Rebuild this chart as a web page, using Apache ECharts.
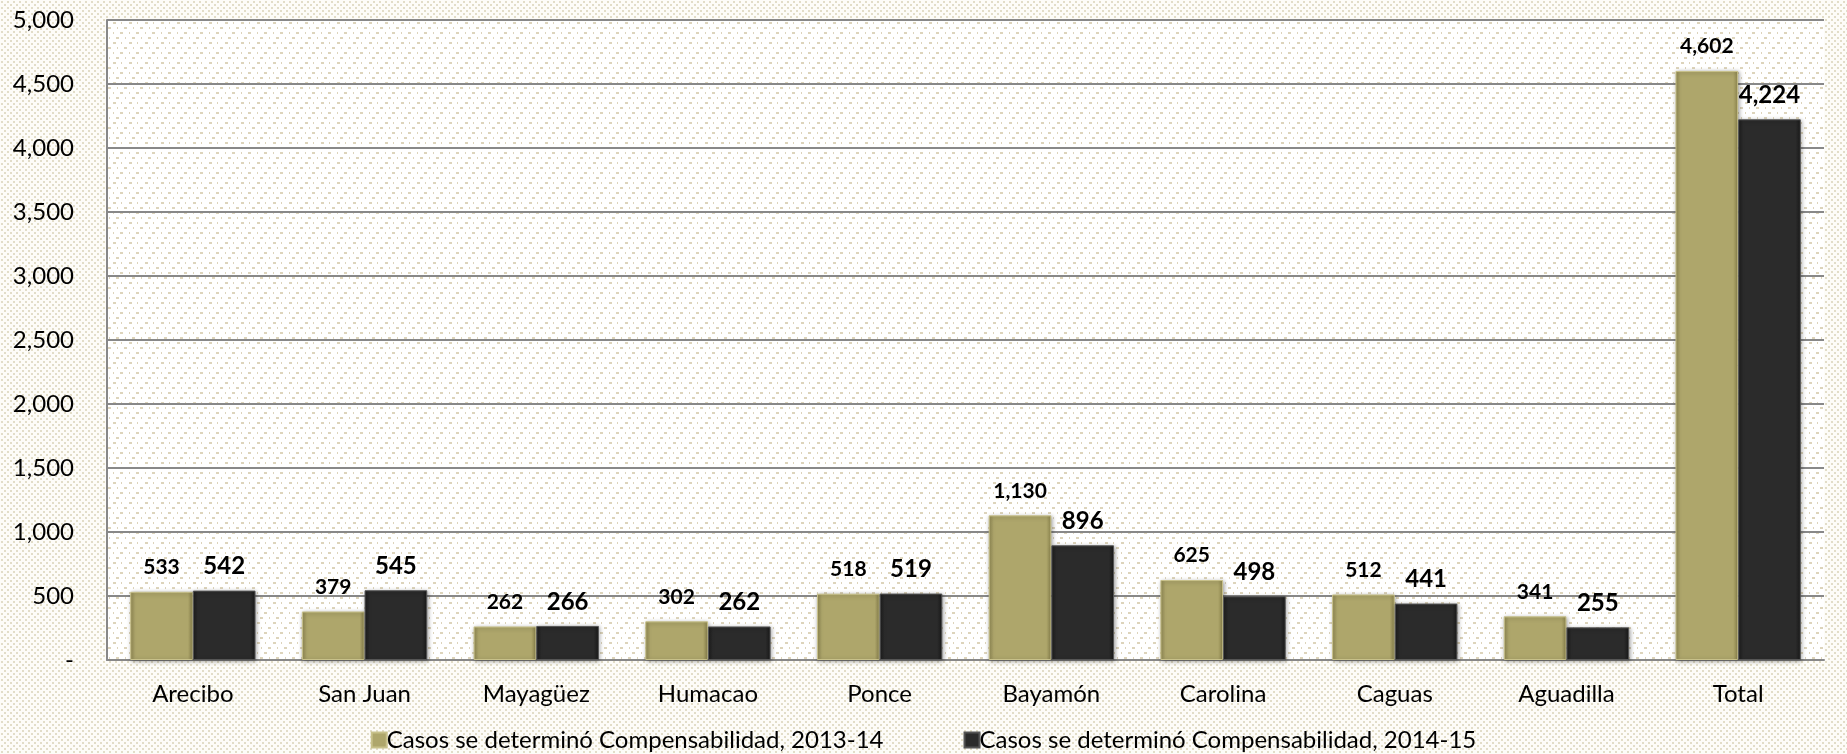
<!DOCTYPE html>
<html><head><meta charset="utf-8">
<script src="https://cdn.jsdelivr.net/npm/echarts@6/dist/echarts.min.js"></script>
<style>html,body{margin:0;padding:0;background:#fff}#c{width:1847px;height:754px}</style>
</head><body><div id="c"></div>
<script>
const categories = ['Arecibo','San Juan','Mayagüez','Humacao','Ponce','Bayamón','Carolina','Caguas','Aguadilla','Total'];
const series2013 = [533,379,262,302,518,1130,625,512,341,4602];
const series2014 = [542,545,266,262,519,896,498,441,255,4224];
const seriesNames = ['Casos se determinó Compensabilidad, 2013-14','Casos se determinó Compensabilidad, 2014-15'];
const yTicks = [0,500,1000,1500,2000,2500,3000,3500,4000,4500,5000];

function outerPattern(){
  const c=document.createElement('canvas');c.width=12;c.height=12;
  const g=c.getContext('2d');g.fillStyle='#fdfcf8';g.fillRect(0,0,12,12);
  g.fillStyle='#e2ddc8';
  [[1,1],[7,1],[4,4],[10,4],[1,7],[7,7],[4,10],[10,10]].forEach(p=>g.fillRect(p[0],p[1],2,2));
  return c;
}
function innerPattern(){
  const c=document.createElement('canvas');c.width=16;c.height=20;
  const g=c.getContext('2d');g.fillStyle='#ffffff';g.fillRect(0,0,16,20);
  g.fillStyle='#ddd4bb';
  g.fillRect(1,2,3,2);g.fillRect(9,2,1,2);
  g.fillRect(5,7,1,2);g.fillRect(12,7,3,2);
  g.fillRect(1,12,1,2);g.fillRect(8,12,3,2);
  g.fillRect(4,17,3,2);g.fillRect(13,17,1,2);
  return c;
}
const fontFam = 'Lato, "Open Sans", sans-serif';
const chart = echarts.init(document.getElementById('c'), null, {renderer:'canvas'});
const goldGrad = new echarts.graphic.LinearGradient(0,0,1,0,[
  {offset:0,color:'#938b55'},{offset:0.08,color:'#aea66b'},{offset:0.92,color:'#aea66b'},{offset:1,color:'#8f874f'}]);
const darkGrad = new echarts.graphic.LinearGradient(0,0,1,0,[
  {offset:0,color:'#1c1c1c'},{offset:0.08,color:'#2b2b2b'},{offset:0.92,color:'#2b2b2b'},{offset:1,color:'#181818'}]);
chart.setOption({
  animation:false,
  backgroundColor:{image:outerPattern(),repeat:'repeat'},
  grid:{left:107,right:23,top:20,bottom:94,show:true,backgroundColor:{image:innerPattern(),repeat:'repeat'},borderWidth:0},
  legend:{
    bottom:-3,left:'center',itemGap:80,itemWidth:15,itemHeight:15,
    icon:'rect',
    textStyle:{fontFamily:fontFam,fontSize:24,color:'#000',padding:[0,0,0,-5]},
    data:[
      {name:seriesNames[0],itemStyle:{color:'#aea66b'}},
      {name:seriesNames[1],itemStyle:{color:'#2b2b2b'}}]
  },
  xAxis:{
    type:'category',data:categories,
    axisLine:{lineStyle:{color:'#888',width:2}},
    axisTick:{show:false},
    axisLabel:{fontFamily:fontFam,fontSize:24,color:'#000',margin:22}
  },
  yAxis:{
    type:'value',min:0,max:5000,interval:500,
    axisLine:{show:true,lineStyle:{color:'#888',width:2}},
    axisTick:{show:false},
    splitLine:{lineStyle:{color:'#888',width:2}},
    axisLabel:{fontFamily:fontFam,fontSize:24,color:'#000',margin:33,
      formatter:v=> v===0?'-':v.toLocaleString('en-US')}
  },
  series:[
    {name:seriesNames[0],type:'bar',data:series2013,barGap:'0%',barCategoryGap:'27%',
      itemStyle:{color:goldGrad,borderColor:'#c8c18a',borderWidth:1,shadowColor:'rgba(0,0,0,0.35)',shadowBlur:4,shadowOffsetX:1,shadowOffsetY:1},
      label:{show:true,position:'top',distance:14,fontFamily:fontFam,fontWeight:'bold',fontSize:21,color:'#000',
        formatter:p=>p.value.toLocaleString('en-US')}},
    {name:seriesNames[1],type:'bar',data:series2014,
      itemStyle:{color:darkGrad,borderColor:'#555',borderWidth:1,shadowColor:'rgba(0,0,0,0.35)',shadowBlur:4,shadowOffsetX:1,shadowOffsetY:1},
      label:{show:true,position:'top',distance:12,fontFamily:fontFam,fontWeight:'bold',fontSize:24,color:'#000',
        formatter:p=>p.value.toLocaleString('en-US')}}
  ]
});
</script></body></html>
